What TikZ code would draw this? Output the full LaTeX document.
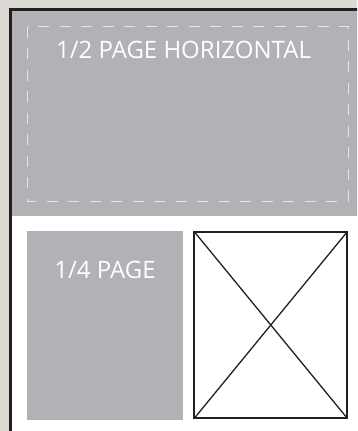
\documentclass[tikz,border=0pt]{standalone}
\usepackage{fontspec}
\setmainfont{Open Sans}
\definecolor{bgbeige}{HTML}{DCDAD3}
\definecolor{adgray}{HTML}{B1B2B6}
\definecolor{darkline}{HTML}{231F20}
\definecolor{dashwhite}{HTML}{E6E6E8}
\tikzset{
  adblock/.style={fill=adgray, draw=none},
  adlabel/.style={text=white, font=\fontsize{24}{28}\selectfont, inner sep=0pt, anchor=base},
  safearea/.style={draw=dashwhite, line width=1pt, dash pattern=on 11pt off 10.5pt},
  photobox/.style={draw=darkline, line width=1.7pt, fill=white},
  diag/.style={draw=darkline, line width=1.3pt},
  pageedge/.style={draw=darkline, line width=2.7pt}
}
\begin{document}
\begin{tikzpicture}[x=1pt,y=-1pt]
\useasboundingbox (0,0) rectangle (357,431);
\clip (0,0) rectangle (357,431);
\fill[bgbeige] (0,0) rectangle (357,431);
% page
\fill[white] (10,9) rectangle (360,435);
\path[adblock] (12,11) rectangle (360,215.7);
\node[adlabel] (halftext) at (183.5,58.5) {1/2 PAGE HORIZONTAL};
\draw[safearea] (27.7,26.7) rectangle (348,201);
% quarter page
\path[adblock] (27,231) rectangle (183,420);
\node[adlabel] (quartertext) at (105,278.5) {1/4 PAGE};
% photo placeholder
\path[photobox] (194.3,231.7) rectangle (347.3,418.3);
\coordinate (pnw) at (194.3,231.7);
\coordinate (pne) at (347.3,231.7);
\coordinate (psw) at (194.3,418.3);
\coordinate (pse) at (347.3,418.3);
\draw[diag] (pnw) -- (pse);
\draw[diag] (pne) -- (psw);
% page edges
\draw[pageedge] (10.5,440) -- (10.5,9.7) -- (365,9.7);
\end{tikzpicture}
\end{document}
